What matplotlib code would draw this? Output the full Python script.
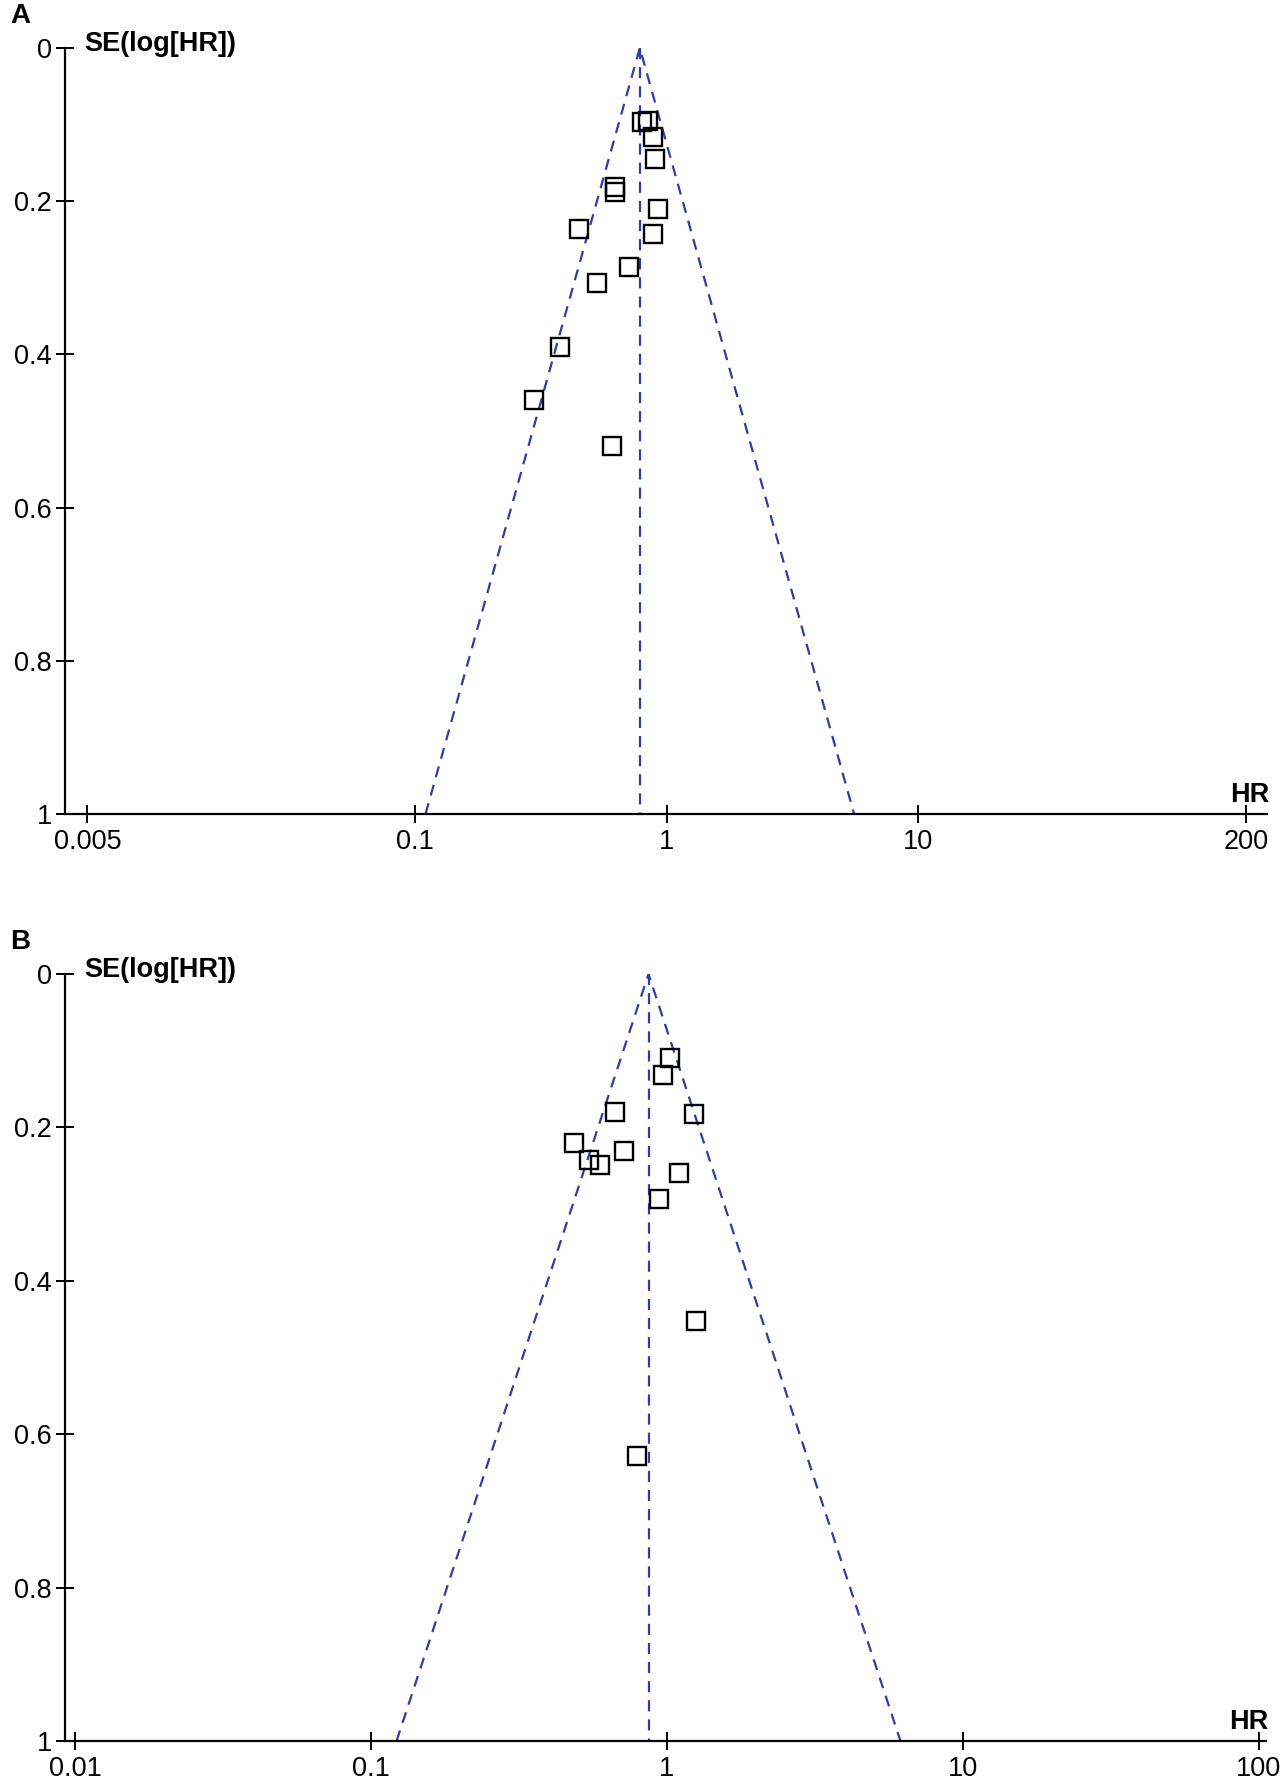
import matplotlib
matplotlib.use("Agg")
import matplotlib.pyplot as plt
import numpy as np

plt.rcParams['font.family'] = ['Liberation Sans', 'DejaVu Sans']

# panel A: hazard ratios and their standard errors
hr_a = [0.798, 0.840, 0.884, 0.898, 0.625, 0.623, 0.922, 0.450, 0.884,
        0.711, 0.528, 0.376, 0.296, 0.604]
se_a = [0.097, 0.096, 0.116, 0.145, 0.181, 0.188, 0.210, 0.236, 0.243,
        0.286, 0.307, 0.390, 0.460, 0.519]
pooled_a = 0.782
xticks_a = [0.005, 0.1, 1, 10, 200]
xlim_a = (0.00407, 242.6)

# panel B
hr_b = [1.020, 0.970, 0.668, 1.229, 0.484, 0.715, 0.546, 0.593, 1.094,
        0.938, 1.252, 0.791]
se_b = [0.109, 0.132, 0.180, 0.183, 0.220, 0.231, 0.243, 0.249, 0.260,
        0.294, 0.453, 0.629]
pooled_b = 0.866
xticks_b = [0.01, 0.1, 1, 10, 100]
xlim_b = (0.00925, 105.6)

yticks = [0, 0.2, 0.4, 0.6, 0.8, 1]
blue = '#2e3da0'

fig = plt.figure(figsize=(12.82, 17.76), dpi=100)
ax_a = fig.add_axes([0.0507, 0.5417, 0.9376, 0.4313])
ax_b = fig.add_axes([0.0507, 0.0197, 0.9368, 0.4319])


def funnel(ax, hr, se, pooled, xticks, xlim, letter):
    se_max = 1.0
    lo = pooled * np.exp(-1.96 * se_max)
    hi = pooled * np.exp(1.96 * se_max)
    ls = (0, (5.0, 3.6))
    ax.plot([lo, pooled, hi], [se_max, 0, se_max], color=blue, lw=1.6,
            ls=ls, zorder=2)
    ax.plot([pooled, pooled], [0, se_max], color=blue, lw=1.6, ls=ls, zorder=2)
    ax.plot(hr, se, ls='none', marker='s', ms=13.5, mfc='none', mec='black',
            mew=1.7, zorder=3)

    ax.set_xscale('log')
    ax.set_xlim(*xlim)
    ax.set_ylim(1, 0)
    ax.set_xticks(xticks)
    ax.set_xticklabels([('%g' % t) for t in xticks])
    ax.minorticks_off()
    ax.set_yticks(yticks)
    ax.set_yticklabels([('%g' % t) for t in yticks])
    for s in ['top', 'right']:
        ax.spines[s].set_visible(False)
    for s in ['left', 'bottom']:
        ax.spines[s].set_linewidth(1.6)
    ax.tick_params(direction='inout', length=13, width=1.4, labelsize=19.5,
                   pad=4)
    ax.tick_params(axis='y', pad=3)

    ax.annotate('SE(log[HR])', xy=(0, 1), xycoords='axes fraction',
                xytext=(14, 3), textcoords='offset points', ha='left',
                va='center', fontsize=19.5, fontweight='bold')
    ax.annotate('HR', xy=(1, 0), xycoords='axes fraction',
                xytext=(2, 4), textcoords='offset points', ha='right',
                va='bottom', fontsize=19.5, fontweight='bold')
    ax.annotate(letter, xy=(0, 1), xycoords='axes fraction',
                xytext=(-32, 23), textcoords='offset points', ha='center',
                va='center', fontsize=20, fontweight='bold')


funnel(ax_a, hr_a, se_a, pooled_a, xticks_a, xlim_a, 'A')
funnel(ax_b, hr_b, se_b, pooled_b, xticks_b, xlim_b, 'B')

fig.savefig('out.png', dpi=100)
